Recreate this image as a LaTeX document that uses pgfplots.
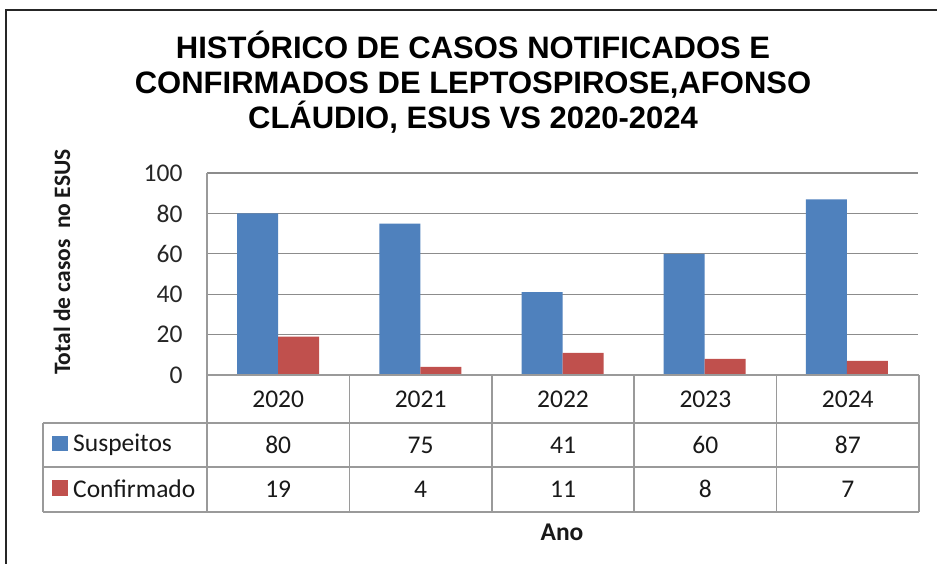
\documentclass[border=0pt]{standalone}
\usepackage{pgfplots}
\usepackage{pgfplotstable}
\pgfplotsset{compat=1.18}
\usepackage{fontspec}
\setmainfont{Carlito}
\newfontfamily\titlefont{Liberation Sans}
\definecolor{sblue}{HTML}{4F81BD}
\definecolor{sred}{HTML}{C0504D}
\definecolor{gridc}{HTML}{8C8C8C}
\definecolor{tabc}{HTML}{9A9A9A}
\pgfplotstableread{
x year s c
0 2020 80 19
1 2021 75 4
2 2022 41 11
3 2023 60 8
4 2024 87 7
}\data

\begin{document}
\begin{tikzpicture}[x=1pt,y=1pt]
\path[use as bounding box] (0,0) rectangle (937,-564);
\fill[white] (0,0) rectangle (937,-564);
\draw[line width=2.2pt, black!85] (6,-570) -- (6,-10) -- (945,-10);
\begin{scope}[font=\titlefont\bfseries\fontsize{31}{35.5}\selectfont]
\node[anchor=base] at (473,-58.3) {HISTÓRICO DE CASOS NOTIFICADOS E};
\node[anchor=base] at (473,-93.5) {CONFIRMADOS DE LEPTOSPIROSE,AFONSO};
\node[anchor=base] at (473,-129) {CLÁUDIO, ESUS VS 2020-2024};
\end{scope}
\begin{axis}[at={(207pt,-375pt)}, anchor=south west, scale only axis,
  width=711pt, height=202pt, xmin=-0.5, xmax=4.5, ymin=0, ymax=100,
  ytick={0,20,...,100}, xtick=\empty, ymajorgrids,
  /pgf/number format/assume math mode=true,
  grid style={gridc, line width=1.3pt}, axis line style={draw=none},
  major tick length=0pt, ybar=0pt, bar width=41pt,
  yticklabel style={font=\fontsize{25.5}{25.5}\selectfont, color=black!85, xshift=-21pt},
  clip=false]
\addplot[fill=sblue, draw=none] table[x=x,y=s]{\data};
\addplot[fill=sred, draw=none] table[x=x,y=c]{\data};
\end{axis}
\begin{scope}[tabc, line width=1.5pt]
\draw (207,-173) -- (207,-512);
\foreach \xx in {349.4,491.8,634.2,776.6,919} \draw (\xx,-375) -- (\xx,-512);
\draw (43,-423) -- (43,-512);
\draw (207,-375) -- (919,-375);
\foreach \yy in {423,467,512} \draw (43,-\yy) -- (919,-\yy);
\end{scope}
\begin{scope}[font=\fontsize{25.5}{25.5}\selectfont, text=black!90]
\foreach \k in {0,...,4} {
  \pgfplotstablegetelem{\k}{year}\of\data
  \node at (278.2+142.4*\k,-399) {\pgfplotsretval};
  \pgfplotstablegetelem{\k}{s}\of\data
  \node at (278.2+142.4*\k,-445) {\pgfplotsretval};
  \pgfplotstablegetelem{\k}{c}\of\data
  \node at (278.2+142.4*\k,-489) {\pgfplotsretval};
}
\fill[sblue] (52,-436) rectangle (68,-451);
\node[anchor=west, inner sep=0pt] at (73,-445) {Suspeitos};
\fill[sred] (52,-480) rectangle (68,-496);
\node[anchor=west, inner sep=0pt] at (73,-489) {Confirmado};
\node[font=\bfseries\fontsize{25.5}{25.5}\selectfont] at (562,-532) {Ano};
\node[rotate=90, font=\bfseries\fontsize{23.5}{23.5}\selectfont] at (62,-262) {Total de casos\ \ no ESUS};
\end{scope}
\end{tikzpicture}
\end{document}
